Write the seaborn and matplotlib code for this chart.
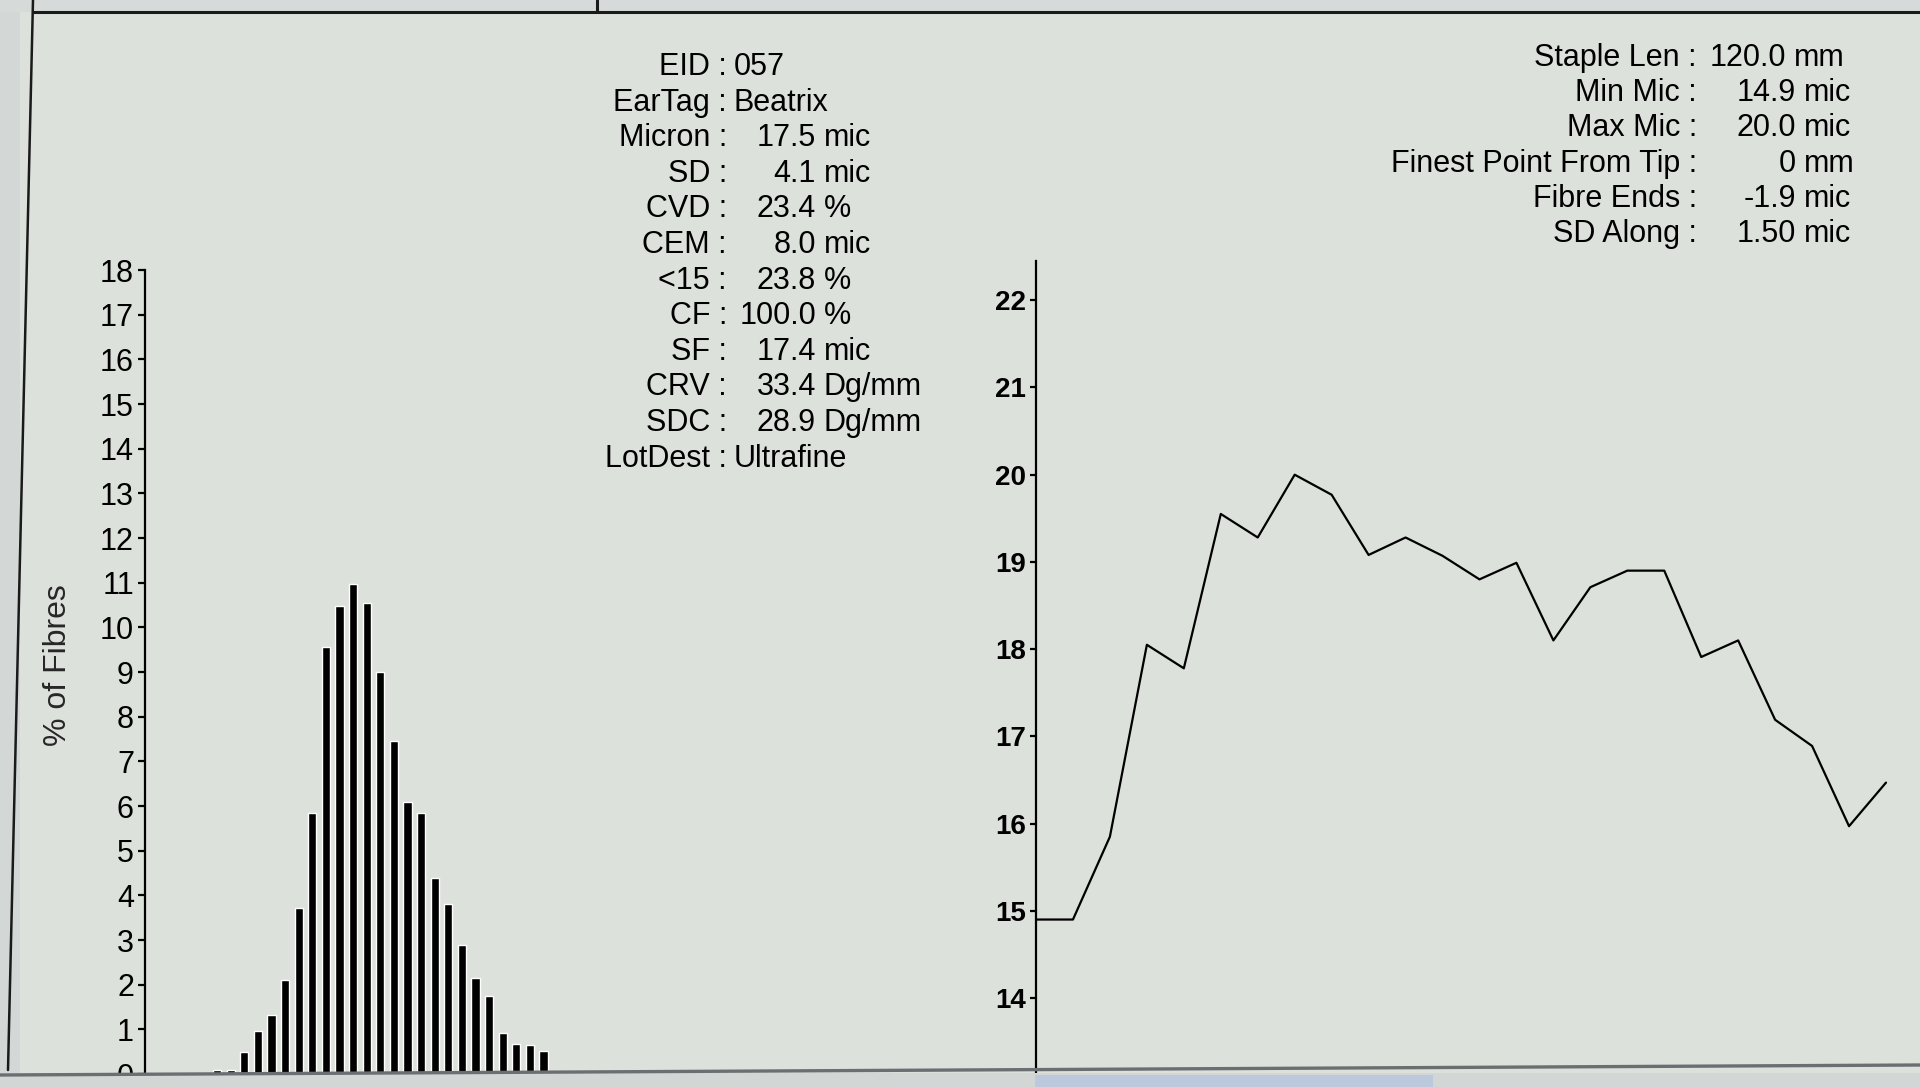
import matplotlib
matplotlib.use('Agg')
import matplotlib.pyplot as plt
import seaborn as sns
import pandas as pd
from matplotlib.lines import Line2D
from matplotlib.patches import Rectangle

# Histogram: % of fibres per micron class
hist_micron = list(range(7, 32))
hist_pct = [0.1, 0.1, 0.5, 0.97, 1.32, 2.1, 3.72, 5.85, 9.56, 10.48, 10.97, 10.54, 9.0,
            7.46, 6.09, 5.84, 4.38, 3.8, 2.9, 2.15, 1.75, 0.92, 0.67, 0.64, 0.52]

# Micron profile along the staple (mm from tip)
along_mm = [0, 5, 10, 15, 20, 25, 30, 35, 40, 45, 50, 55, 60, 65, 70, 75, 80, 85, 90, 95,
            100, 105, 110, 115]
along_mic = [14.9, 14.9, 15.85, 18.05, 17.78, 19.55, 19.28, 20.0, 19.77, 19.08, 19.28, 19.07,
             18.8, 18.99, 18.1, 18.71, 18.9, 18.9, 17.91, 18.1, 17.19, 16.89, 15.97, 16.47]

# Summary text
mid_labels = ['EID', 'EarTag', 'Micron', 'SD', 'CVD', 'CEM', '<15', 'CF', 'SF', 'CRV', 'SDC', 'LotDest']
mid_nums = ['057', 'Beatrix', '17.5', '4.1', '23.4', '8.0', '23.8', '100.0', '17.4', '33.4', '28.9', 'Ultrafine']
mid_units = ['', '', 'mic', 'mic', '%', 'mic', '%', '%', 'mic', 'Dg/mm', 'Dg/mm', '']

right_labels = ['Staple Len', 'Min Mic', 'Max Mic', 'Finest Point From Tip', 'Fibre Ends', 'SD Along']
right_nums = ['120.0', '14.9', '20.0', '0', '-1.9', '1.50']
right_units = ['mm', 'mic', 'mic', 'mm', 'mic', 'mic']

W, H = 1920, 1087
BG = '#dde1dc'
FS = 22

sns.set_theme(style='white')
plt.rcParams['font.family'] = ['Liberation Sans', 'DejaVu Sans']
plt.rcParams['axes.facecolor'] = 'none'


def fx(x):
    return x / W


def fy(y):
    return 1 - y / H


fig = plt.figure(figsize=(W / 100, H / 100), dpi=100)
fig.patch.set_facecolor(BG)

# screen frame bits
fig.patches.append(Rectangle((0, 0), fx(20), 1, transform=fig.transFigure,
                             facecolor='#d3d8d6', edgecolor='none', zorder=0))
fig.patches.append(Rectangle((0, fy(12)), 1, 12 / H, transform=fig.transFigure,
                             facecolor='#d6dad8', edgecolor='none', zorder=0))
fig.lines.append(Line2D([fx(33), 1], [fy(12), fy(12)], transform=fig.transFigure,
                        color='#1a1a1a', lw=2.2))
fig.lines.append(Line2D([fx(597), fx(597)], [fy(12), 1], transform=fig.transFigure,
                        color='#1a1a1a', lw=2.2))
fig.lines.append(Line2D([fx(33), fx(8)], [1, fy(1070)], transform=fig.transFigure,
                        color='#1a1a1a', lw=1.8))

# histogram panel
ax1 = fig.add_axes([fx(145), 0, fx(580) - fx(145), (H - 270) / H])
df_h = pd.DataFrame({'micron': hist_micron, 'pct': hist_pct})
sns.barplot(data=df_h, x='micron', y='pct', color='black', width=0.6,
            native_scale=True, saturation=1, ax=ax1)
ax1.set_xlim(hist_micron[0] - 5.3, hist_micron[0] - 5.3 + 435 / 13.6)
ax1.set_ylim(-0.29, 18)
ax1.set_yticks(range(0, 19))
ax1.set_xticks([])
ax1.set_xlabel('')
ax1.set_ylabel('% of Fibres', fontsize=23)
ax1.yaxis.set_label_coords(-0.165, 0.516)
for s in ['top', 'right', 'bottom']:
    ax1.spines[s].set_visible(False)
ax1.spines['left'].set_color('black')
ax1.spines['left'].set_linewidth(1.6)
ax1.tick_params(axis='y', direction='out', length=5, width=1.6, pad=3,
                labelsize=22, color='black', labelcolor='black', left=True)

# micron along staple panel
ax2 = fig.add_axes([fx(1036), 0, 1 - fx(1036), (H - 261) / H])
df_l = pd.DataFrame({'mm': along_mm, 'mic': along_mic})
sns.lineplot(data=df_l, x='mm', y='mic', color='black', lw=1.6, ax=ax2)
ax2.set_xlim(0, 5 * (1920 - 1036) / ((1886 - 1036) / 23))
ax2.set_ylim(12.98, 22.45)
ax2.set_yticks(range(14, 23))
ax2.set_xticks([])
ax2.set_xlabel('')
ax2.set_ylabel('')
for s in ['top', 'right', 'bottom']:
    ax2.spines[s].set_visible(False)
ax2.spines['left'].set_color('black')
ax2.spines['left'].set_linewidth(1.6)
ax2.tick_params(axis='y', direction='out', length=4, width=1.6, pad=3,
                labelsize=20, color='black', labelcolor='black', left=True)
for lab in ax2.get_yticklabels():
    lab.set_fontweight('bold')
    lab.set_fontfamily(['Liberation Sans Narrow', 'Liberation Sans'])

# centre summary block
for i, (lab, num, unit) in enumerate(zip(mid_labels, mid_nums, mid_units)):
    y = fy(75 + i * 35.6)
    fig.text(fx(727), y, lab + ' :', ha='right', va='baseline', fontsize=FS, color='black')
    if unit:
        fig.text(fx(816), y, num, ha='right', va='baseline', fontsize=FS, color='black')
        fig.text(fx(824), y, unit, ha='left', va='baseline', fontsize=FS, color='black')
    else:
        fig.text(fx(734), y, num, ha='left', va='baseline', fontsize=FS, color='black')

# top right block (first row is packed tighter on the original screen)
for i, (lab, num, unit) in enumerate(zip(right_labels, right_nums, right_units)):
    y = fy(66 + i * 35.2)
    num_x, unit_x = (1786, 1794) if i == 0 else (1796, 1804)
    fig.text(fx(1697), y, lab + ' :', ha='right', va='baseline', fontsize=FS, color='black')
    fig.text(fx(num_x), y, num, ha='right', va='baseline', fontsize=FS, color='black')
    fig.text(fx(unit_x), y, unit, ha='left', va='baseline', fontsize=FS, color='black')

# bottom bar of the window
fig.patches.append(Rectangle((0, 0), 1, (H - 1073) / H, transform=fig.transFigure,
                             facecolor='#d2d6d4', edgecolor='none', zorder=5))
fig.patches.append(Rectangle((fx(1035), 0), fx(1433) - fx(1035), (H - 1075) / H,
                             transform=fig.transFigure, facecolor='#bcc8dc',
                             edgecolor='none', zorder=6))
fig.lines.append(Line2D([0, 1], [fy(1075), fy(1065)], transform=fig.transFigure,
                        color='#6b6f72', lw=2.4, zorder=7))

plt.savefig('out.png', dpi=100, facecolor=fig.get_facecolor())
print('saved out.png')
